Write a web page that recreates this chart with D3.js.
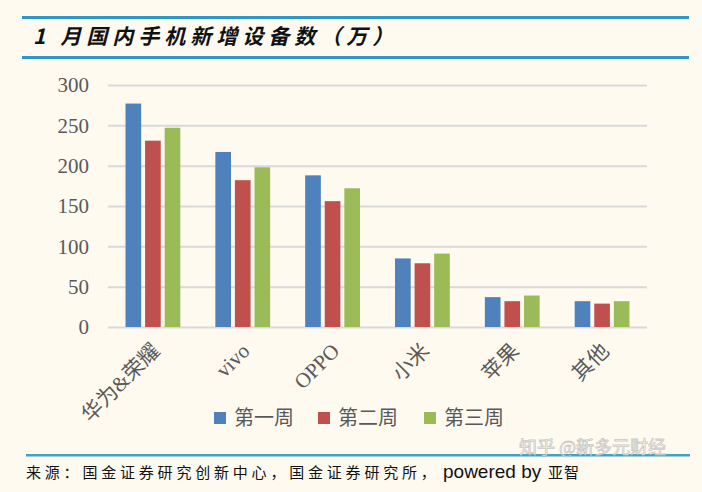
<!DOCTYPE html>
<html><head><meta charset="utf-8">
<script src="https://cdn.jsdelivr.net/npm/d3@7"></script>
<style>
html,body{margin:0;padding:0;background:#fefaf0;}
svg{display:block;}
</style></head>
<body>
<script>
const categories = ["华为&荣耀", "vivo", "OPPO", "小米", "苹果", "其他"];
const seriesNames = ["第一周", "第二周", "第三周"];
const week1 = [277, 217, 188, 85, 37, 32];
const week2 = [231, 182, 156, 79, 32, 29];
const week3 = [247, 198, 172, 91, 39, 32];
const yTicks = [0, 50, 100, 150, 200, 250, 300];
const colors = ["#4f81bd", "#c0504d", "#9bbb59"];
const titleText = "1 月国内手机新增设备数（万）";
const sourceText = "来源：国金证券研究创新中心，国金证券研究所，";
const poweredText = "powered by";
const poweredName = "亚智";
const watermark = "知乎 @新多元财经";

const seriesValues = [week1, week2, week3];
const W = 702, H = 492;
const svg = d3.select("body").append("svg").attr("width", W).attr("height", H);
svg.append("rect").attr("width", W).attr("height", H).attr("fill", "#fefaf0");

// title block
svg.append("rect").attr("x", 22).attr("y", 16).attr("width", 667).attr("height", 3).attr("fill", "#2f98c6");
svg.append("rect").attr("x", 22).attr("y", 56).attr("width", 667).attr("height", 3).attr("fill", "#2f98c6");
svg.append("text").attr("x", 33).attr("y", 44)
  .attr("font-family", "'Noto Sans CJK SC', 'Liberation Sans', sans-serif")
  .attr("font-size", 21).attr("font-weight", "bold").attr("font-style", "italic")
  .attr("letter-spacing", "5px").attr("fill", "#111")
  .text(titleText);

const x0 = d3.scaleBand().domain(categories).range([108, 647]).paddingInner(0.39).paddingOuter(0.195);
const x1 = d3.scaleBand().domain(seriesNames).range([0, x0.bandwidth()]).paddingInner(0.2);
const y = d3.scaleLinear().domain([0, 300]).range([327, 85]);

// gridlines + y labels via axis
const yAxis = d3.axisLeft(y).tickValues(yTicks).tickSize(-(647 - 108)).tickFormat(d3.format("d")).tickPadding(19);
const gy = svg.append("g").attr("transform", "translate(108,0)").call(yAxis);
gy.select(".domain").remove();
gy.selectAll(".tick line").attr("stroke", "#d9d9d9").attr("stroke-width", 2);
gy.selectAll(".tick text").attr("font-family", "'Liberation Serif', 'Times New Roman', serif")
  .attr("font-size", 21).attr("fill", "#595959");

// bars
const groups = svg.append("g").selectAll("g").data(categories).join("g")
  .attr("transform", d => `translate(${x0(d)},0)`);
groups.selectAll("rect").data((d, i) => seriesNames.map((s, j) => ({s, v: seriesValues[j][i], j})))
  .join("rect")
  .attr("x", d => x1(d.s)).attr("width", x1.bandwidth())
  .attr("y", d => y(d.v)).attr("height", d => y(0) - y(d.v))
  .attr("fill", d => colors[d.j]);

// category labels
svg.append("g").selectAll("text").data(categories).join("text")
  .attr("transform", d => `translate(${x0(d) + x0.bandwidth() / 2 + 3},347) rotate(-45)`)
  .attr("text-anchor", "end").attr("dy", "0.35em")
  .attr("font-family", "'Liberation Serif', 'Times New Roman', 'Noto Sans CJK SC', serif")
  .attr("font-size", 21).attr("fill", "#595959")
  .text(d => d);

// legend
const legendX = [214, 318, 424];
const lg = svg.append("g").selectAll("g").data(seriesNames).join("g")
  .attr("transform", (d, i) => `translate(${legendX[i]},412)`);
lg.append("rect").attr("width", 12).attr("height", 12).attr("fill", (d, i) => colors[i]);
lg.append("text").attr("x", 20).attr("y", 6).attr("dy", "0.36em")
  .attr("font-family", "'Noto Sans CJK SC', sans-serif").attr("font-size", 20)
  .attr("fill", "#595959").text(d => d);

// footer
svg.append("rect").attr("x", 26).attr("y", 454).attr("width", 664).attr("height", 2.5).attr("fill", "#3ea3c4");
svg.append("text").attr("x", 26).attr("y", 478)
  .attr("font-family", "'Noto Sans CJK SC', sans-serif").attr("font-size", 15)
  .attr("letter-spacing", "3.8px").attr("fill", "#111").text(sourceText);
svg.append("text").attr("x", 443).attr("y", 478)
  .attr("font-family", "'Liberation Sans', Arial, sans-serif").attr("font-size", 19)
  .attr("fill", "#111").text(poweredText);
svg.append("text").attr("x", 548).attr("y", 478)
  .attr("font-family", "'Noto Sans CJK SC', sans-serif").attr("font-size", 15)
  .attr("letter-spacing", "1px").attr("fill", "#111").text(poweredName);
svg.append("text").attr("x", 519).attr("y", 454)
  .attr("font-family", "'Noto Sans CJK SC', sans-serif").attr("font-size", 18)
  .attr("fill", "#ffffff").attr("fill-opacity", 0.75)
  .attr("stroke", "#9a9a9a").attr("stroke-width", 0.8).attr("stroke-opacity", 0.55)
  .text(watermark);
</script>
</body></html>
